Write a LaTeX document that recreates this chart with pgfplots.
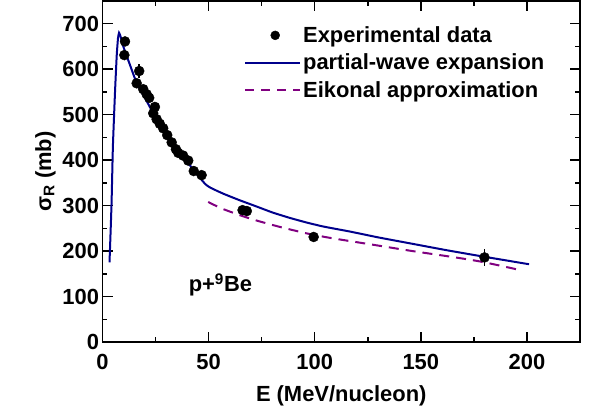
\documentclass[border=0pt]{standalone}
\usepackage{fontspec}
\setmainfont{Liberation Sans}
\usepackage{pgfplots}
\usepackage{pgfplotstable}
\pgfplotsset{compat=1.18}
\definecolor{navyc}{RGB}{0,0,140}
\definecolor{purp}{RGB}{128,0,128}

\pgfplotstableread{
E sig err
10.6 661 10
10.3 631 8
17.3 596 15
16.1 569 6
19.2 556 6
20.8 545 6
22.0 537 6
24.7 517 8
23.9 503 6
25.5 490 6
27.0 480 6
28.6 470 6
30.5 455 6
32.6 439 6
34.6 424 6
35.7 416 6
38.0 410 6
40.4 399 6
43.0 376 6
46.7 367 6
66.0 290 6
68.0 288 6
99.5 231 5
180.0 186 18
}\expdata

\pgfplotstableread{
E sig
3.3 175
3.8 240
4.3 311
4.9 430
5.9 550
6.7 630
7.3 668
7.8 680
8.5 672
9.8 650
12.9 610
16.1 570
20.8 530
25.5 490
32 448
38 408
44.3 370
48.5 347
51 339
57 326
64.5 312
72.6 298
80 285
88.2 273
96 263
104 254
116.5 243
130 230
146 216
162 202
178 189
201 171
}\pwave

\pgfplotstableread{
E sig
49.8 308
56 294
64.7 279
72 268
80.4 257
88 248
96.1 239
106 230
116.5 222
130 212
146 200
162 189
178 177
196 159
}\eik

\newcommand{\bigf}{\fontsize{22}{24}\selectfont\bfseries}

\begin{document}
\begin{tikzpicture}
\begin{axis}[
  name=ax,
  scale only axis, width=477.5bp, height=341bp,
  xmin=0, xmax=225, ymin=0, ymax=750,
  xtick={0,50,...,200}, minor xtick={25,75,...,225},
  ytick={0,100,...,700}, minor ytick={50,150,...,750},
  tick align=inside, major tick length=10bp, minor tick length=5bp,
  axis line style={line width=1.5bp},
  every tick/.style={black, line width=1.5bp},
  /pgf/number format/assume math mode=true,
  tick label style={font=\bigf},
  xticklabel style={yshift=-9bp},
  label style={font=\bigf},
  xlabel={E (MeV/nucleon)},
  xlabel style={yshift=-9bp},
  ylabel={σ\textsubscript{R} (mb)},
  legend style={at={(0.29,0.937)}, anchor=north west, draw=none, fill=none, font=\bigf, row sep=6bp},
  legend cell align=left,
]
\addplot[only marks, mark=*, black, mark size=5bp, forget plot,
  error bars/.cd, y dir=both, y explicit,
  error bar style={line width=1.5bp, black}, error mark=none]
  table[x=E, y=sig, y error=err] {\expdata};
\addplot[navyc, line width=2bp, smooth, tension=0.3, mark=none, forget plot]
  table[x=E, y=sig] {\pwave};
\addplot[purp, line width=2bp, dash pattern=on 10bp off 7bp, smooth, mark=none, forget plot]
  table[x=E, y=sig] {\eik};
\addlegendimage{legend image code/.code={\fill[black] (1.06cm,0cm) circle (4.5bp);}}
\addlegendentry{\textbf{Experimental data}}
\addlegendimage{legend image code/.code={\draw[navyc, line width=2bp] (0cm,0cm) -- (1.94cm,0cm);}}
\addlegendentry{\textbf{partial-wave expansion}}
\addlegendimage{legend image code/.code={\draw[purp, line width=2bp, dash pattern=on 9bp off 7bp] (0cm,0cm) -- (1.94cm,0cm);}}
\addlegendentry{\textbf{Eikonal approximation}}
\node[anchor=west, font=\bigf] at (axis cs:39,125) {p+\textsuperscript{9}Be};
\end{axis}
\path ([shift={(-102.5bp,-64bp)}]ax.south west) rectangle ([shift={(15bp,1bp)}]ax.north east);
\end{tikzpicture}
\end{document}
